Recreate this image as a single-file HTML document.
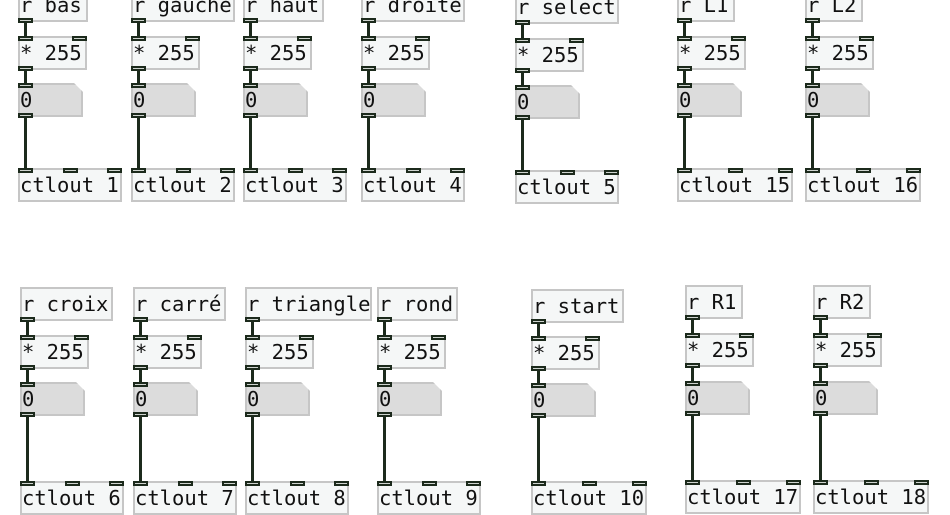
<!DOCTYPE html>
<html><head><meta charset="utf-8"><style>
body{margin:0;width:950px;height:500px;background:#fff;position:relative;overflow:hidden;font-family:"DejaVu Sans Mono","Liberation Mono",monospace;}
.b{position:absolute;box-sizing:border-box;border:2px solid #c6c6c6;background:#f5f7f7;font-size:20.5px;line-height:31px;padding-left:0px;color:#111;white-space:pre;height:34px;overflow:hidden}
.n{position:absolute;box-sizing:border-box;height:34px;width:65px;background:#dcdcdc;border:2px solid #c6c6c6;font-size:20.5px;line-height:31px;padding-left:0px;color:#111;clip-path:polygon(0 0,calc(100% - 9px) 0,100% 9px,100% 100%,0 100%)}
.p{position:absolute;box-sizing:border-box;width:15px;height:5px;border:2px solid #1c2a1c;background:#cfd4cf}
.l{position:absolute;width:3px;background:#1c2a1c}
</style></head><body>
<div id="c"></div>
<script>
var cols=[
[18,-12,36,83,168,"r bas","ctlout 1"],
[131,-12,36,83,168,"r gauche","ctlout 2"],
[243,-12,36,83,168,"r haut","ctlout 3"],
[361,-12,36,83,168,"r droite","ctlout 4"],
[515,-10,38,85,170,"r select","ctlout 5"],
[677,-12,36,83,168,"r L1","ctlout 15"],
[805,-12,36,83,168,"r L2","ctlout 16"],
[20,287,335,382,481,"r croix","ctlout 6"],
[133,287,335,382,481,"r carré","ctlout 7"],
[245,287,335,382,481,"r triangle","ctlout 8"],
[377,287,335,382,481,"r rond","ctlout 9"],
[531,289,336,383,481,"r start","ctlout 10"],
[685,285,333,381,480,"r R1","ctlout 17"],
[813,285,333,381,480,"r R2","ctlout 18"]];
var h="";
function w(s){return Math.round(s.length*11.5+12);}
function box(x,y,t,cls,wd){h+='<div class="'+cls+'" style="left:'+x+'px;top:'+y+'px'+(wd?';width:'+wd+'px':'')+'">'+t+'</div>';}
function port(x,y){h+='<div class="p" style="left:'+x+'px;top:'+y+'px"></div>';}
function line(x,y1,y2){h+='<div class="l" style="left:'+(x+6)+'px;top:'+y1+'px;height:'+(y2-y1)+'px"></div>';}
cols.forEach(function(c){
 var x=c[0];
 line(x,c[1]+34,c[2]);line(x,c[2]+34,c[3]);line(x,c[3]+34,c[4]);
 box(x,c[1],c[5],"b",w(c[5]));port(x,c[1]+30);
 box(x,c[2],"* 255","b",69);port(x,c[2]);port(x+54,c[2]);port(x,c[2]+30);
 box(x,c[3],"0","n");port(x,c[3]);port(x,c[3]+30);
 var cw=w(c[6]);box(x,c[4],c[6],"b",cw);port(x,c[4]);port(x+Math.round(cw/2)-7,c[4]);port(x+cw-15,c[4]);
});
document.getElementById("c").innerHTML=h;
</script>
</body></html>
